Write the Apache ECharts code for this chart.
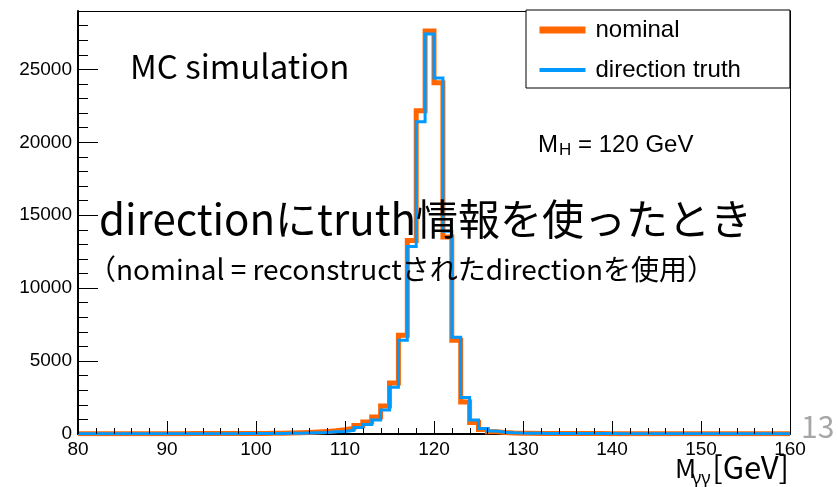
<!DOCTYPE html>
<html>
<head>
    <meta charset="utf-8">
    <title>M_yy</title>
    <style type="text/css">
        body{ margin:0; background-color:#fff; }
        #main{ width:838px; height:487px; }
    </style>
    <script src="https://cdn.jsdelivr.net/npm/echarts@6/dist/echarts.min.js"></script>
</head>
<body>
    <div id="main"></div>
    <script type="text/javascript">
        // bins: 1 GeV wide, 80 .. 160
        var binStart = 80;
        var binWidth = 1;
        // nominal (reconstructed direction)
        var nominal = [
            20, 20, 20, 20, 20, 20, 25, 25, 25, 25,
            25, 25, 30, 30, 30, 30, 35, 35, 35, 40,
            40, 45, 55, 65, 80, 100, 130, 170, 220, 290,
            400, 580, 820, 1160, 1920, 3490, 6770, 13270, 22160, 27630,
            24080, 13500, 6430, 2200, 780, 300, 160, 100, 70, 55,
            45, 40, 40, 35, 35, 30, 30, 30, 30, 25,
            25, 25, 25, 25, 20, 20, 20, 20, 20, 20,
            20, 20, 20, 15, 15, 15, 15, 15, 15, 15
        ];
        // direction truth
        var truth = [
            15, 15, 15, 15, 15, 15, 15, 20, 20, 20,
            20, 20, 20, 20, 25, 25, 25, 25, 30, 30,
            30, 35, 40, 45, 55, 65, 85, 110, 150, 170,
            250, 450, 650, 960, 1640, 3210, 6430, 12860, 21400, 27430,
            24400, 13900, 6630, 2500, 960, 380, 200, 120, 80, 60,
            50, 45, 40, 40, 35, 35, 30, 30, 30, 30,
            25, 25, 25, 25, 25, 20, 20, 20, 20, 20,
            20, 20, 20, 20, 15, 15, 15, 15, 15, 15
        ];
        // x axis ticks
        var xMajorTicks = [80, 90, 100, 110, 120, 130, 140, 150, 160];
        var xMinorTicks = [82, 84, 86, 88, 92, 94, 96, 98, 102, 104, 106, 108,
                           112, 114, 116, 118, 122, 124, 126, 128, 132, 134, 136, 138,
                           142, 144, 146, 148, 152, 154, 156, 158];

        var labelFont = 'Liberation Sans';

        // histogram -> step line points at bin edges
        function toSteps(vals) {
            var pts = [];
            for (var i = 0; i < vals.length; i++) {
                pts.push([binStart + i * binWidth, vals[i]]);
            }
            pts.push([binStart + vals.length * binWidth, vals[vals.length - 1]]);
            return pts;
        }

        var myChart = echarts.init(document.getElementById('main'));

        // frame-only axis (top / right edge of the box)
        function frameAxis(pos, min, max) {
            return {
                type: 'value', position: pos, min: min, max: max,
                axisLine: { show: true, onZero: false, lineStyle: { color: '#000', width: 1 } },
                axisTick: { show: false }, axisLabel: { show: false }, splitLine: { show: false }
            };
        }

        // inward x ticks, drawn from the axis line upward (len in px)
        function tickSeries(ticks, len) {
            return {
                type: 'custom',
                silent: true,
                zlevel: 1,
                z: 20,
                data: ticks.map(function (t) { return [t, 0]; }),
                renderItem: function (params, api) {
                    var p = api.coord([api.value(0), 0]);
                    var x = Math.round(p[0]) + 0.5;
                    return {
                        type: 'line',
                        shape: { x1: x, y1: p[1], x2: x, y2: p[1] - len },
                        style: { stroke: '#000', lineWidth: 1 }
                    };
                }
            };
        }

        var option = {
            animation: false,
            grid: { left: 78, right: 48, top: 11, bottom: 53, show: false },
            legend: {
                data: [
                    { name: 'nominal', lineStyle: { width: 7 } },
                    { name: 'direction truth', lineStyle: { width: 4 } }
                ],
                orient: 'vertical',
                left: 526,
                top: 10,
                itemWidth: 46,
                itemHeight: 14,
                itemGap: 16,
                padding: [8, 49, 6, 10],
                borderColor: '#000',
                borderWidth: 1,
                backgroundColor: '#fff',
                itemStyle: { opacity: 0 },
                textStyle: {
                    fontSize: 24,
                    fontFamily: labelFont,
                    color: '#000',
                    padding: [0, 0, 0, 5]
                }
            },
            xAxis: [
                {
                    type: 'value',
                    position: 'bottom',
                    min: 80,
                    max: 160,
                    interval: 10,
                    axisLine: { show: true, onZero: false, lineStyle: { color: '#000', width: 2 } },
                    axisTick: { show: false },
                    axisLabel: { fontSize: 19, fontFamily: labelFont, color: '#000', margin: 6 },
                    splitLine: { show: false }
                },
                frameAxis('top', 80, 160)
            ],
            yAxis: [
                {
                    type: 'value',
                    min: 0,
                    max: 29000,
                    interval: 5000,
                    position: 'left',
                    axisLine: { show: true, onZero: false, lineStyle: { color: '#000', width: 2 } },
                    axisTick: { show: true, inside: true, length: 20, lineStyle: { color: '#000', width: 1 } },
                    axisLabel: {
                        fontSize: 19, fontFamily: labelFont, color: '#000', margin: 6, showMaxLabel: false,
                        formatter: function (v) { return String(v); }
                    },
                    splitLine: { show: false }
                },
                {
                    type: 'value',
                    min: 0,
                    max: 29000,
                    interval: 1000,
                    position: 'left',
                    axisLine: { show: false },
                    axisTick: { show: true, inside: true, length: 10, lineStyle: { color: '#000', width: 1 } },
                    axisLabel: { show: false },
                    splitLine: { show: false }
                },
                frameAxis('right', 0, 29000)
            ],
            series: [
                {
                    name: 'nominal',
                    type: 'line',
                    step: 'end',
                    symbol: 'none',
                    data: toSteps(nominal),
                    itemStyle: { color: '#ff6600' },
                    lineStyle: { color: '#ff6600', width: 5, join: 'miter' },
                    z: 3
                },
                {
                    name: 'direction truth',
                    type: 'line',
                    step: 'end',
                    symbol: 'none',
                    data: toSteps(truth),
                    itemStyle: { color: '#0099ff' },
                    lineStyle: { color: '#0099ff', width: 3, join: 'miter' },
                    z: 4
                },
                tickSeries(xMajorTicks, 13),
                tickSeries(xMinorTicks, 6)
            ],
            graphic: [
                { type: 'text', left: 130, top: 50, z: 10,
                  style: { text: 'MC simulation', font: '33px "Noto Sans CJK JP"', fill: '#000' } },
                { type: 'text', left: 538, top: 133, z: 10,
                  style: { text: 'M', font: '24px "Liberation Sans"', fill: '#000' } },
                { type: 'text', left: 559, top: 142, z: 10,
                  style: { text: 'H', font: '17px "Liberation Sans"', fill: '#000' } },
                { type: 'text', left: 578, top: 133, z: 10,
                  style: { text: '= 120 GeV', font: '24px "Liberation Sans"', fill: '#000' } },
                { type: 'text', left: 99, top: 198, z: 10,
                  style: { text: 'directionにtruth情報を使ったとき', font: '42px "Noto Sans CJK JP"', fill: '#000' } },
                { type: 'text', left: 88, top: 255, z: 10,
                  style: { text: '（nominal = reconstructされたdirectionを使用）', font: '28px "Noto Sans CJK JP"', fill: '#000' } },
                { type: 'text', left: 675, top: 455, z: 10,
                  style: { text: 'M', font: '26px "Noto Sans CJK JP"', fill: '#000' } },
                { type: 'text', left: 692, top: 470, z: 10,
                  style: { text: 'γγ', font: '18px "Noto Sans"', fill: '#000' } },
                { type: 'text', right: 49, top: 452, z: 10,
                  style: { text: '[GeV]', font: '31px "Noto Sans CJK JP"', fill: '#000' } },
                { type: 'text', left: 801, top: 412, z: 10,
                  style: { text: '13', font: '30px "Noto Sans CJK JP"', fill: '#a6a6a6' } }
            ]
        };

        myChart.setOption(option);
    </script>
</body>
</html>
